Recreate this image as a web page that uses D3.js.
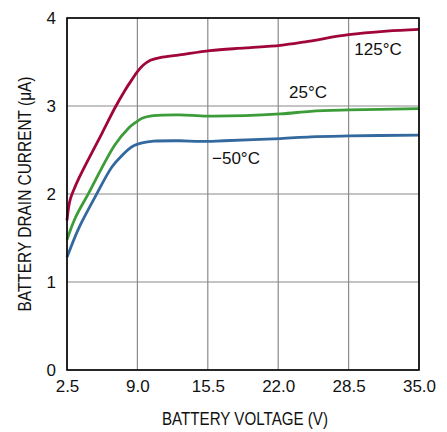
<!DOCTYPE html>
<html>
<head>
<meta charset="utf-8">
<script src="https://cdn.jsdelivr.net/npm/d3@7"></script>
<style>
  body { margin: 0; background: #fff; }
  text { font-family: "Liberation Sans Narrow", "Arial Narrow", "Liberation Sans", sans-serif; fill: #111; }
</style>
</head>
<body>
<div id="chart"></div>
<script>
// Battery voltage (V) vs battery drain current (uA)
const xTicks = [2.5, 9.0, 15.5, 22.0, 28.5, 35.0];
const yTicks = [0, 1, 2, 3, 4];

const v125 = [2.5, 2.65, 2.8, 3.1, 3.6, 4.5, 5.73, 6.93, 7.86, 8.5, 9.0, 9.5, 10.2, 11.1, 12.9, 15.7, 19.0, 22.2, 24.5, 28.5, 32.0, 35.0];
const i125 = [1.70, 1.85, 1.94, 2.04, 2.18, 2.40, 2.69, 2.98, 3.18, 3.30, 3.39, 3.46, 3.52, 3.55, 3.58, 3.63, 3.66, 3.69, 3.73, 3.81, 3.85, 3.87];

const v25 = [2.5, 3.27, 4.5, 5.73, 6.93, 8.2, 8.8, 9.43, 10.5, 12.9, 15.5, 22.2, 25.0, 28.5, 35.0];
const i25 = [1.48, 1.73, 2.01, 2.30, 2.56, 2.75, 2.81, 2.86, 2.89, 2.90, 2.885, 2.91, 2.94, 2.955, 2.97];

const vm50 = [2.5, 3.58, 5.11, 6.66, 7.6, 8.2, 8.7, 9.43, 10.5, 12.9, 14.8, 17.0, 22.2, 25.0, 28.5, 35.0];
const im50 = [1.28, 1.61, 1.97, 2.31, 2.44, 2.51, 2.55, 2.58, 2.60, 2.605, 2.597, 2.605, 2.63, 2.65, 2.66, 2.67];

const seriesNames = ["125°C", "25°C", "\u221250°C"];

const width = 447, height = 432;
const margin = { left: 67, right: 28, top: 18, bottom: 62 };

const svg = d3.select("#chart")
    .append("svg")
    .attr("width", width)
    .attr("height", height);

const x = d3.scaleLinear().domain([2.5, 35]).range([margin.left, width - margin.right]);
const y = d3.scaleLinear().domain([0, 4]).range([height - margin.bottom, margin.top]);

// grid
svg.append("g")
    .selectAll("line")
    .data(xTicks)
    .join("line")
    .attr("x1", d => x(d)).attr("x2", d => x(d))
    .attr("y1", y(0)).attr("y2", y(4))
    .style("stroke", "#8a8a8a").style("stroke-width", 1.2);

svg.append("g")
    .selectAll("line")
    .data(yTicks)
    .join("line")
    .attr("x1", x(2.5)).attr("x2", x(35))
    .attr("y1", d => y(d)).attr("y2", d => y(d))
    .style("stroke", "#8a8a8a").style("stroke-width", 1.2);

// axes (labels only)
const xAxis = svg.append("g")
    .attr("transform", `translate(0,${y(0)})`)
    .call(d3.axisBottom(x).tickValues(xTicks).tickFormat(d3.format(".1f")).tickSize(0).tickPadding(10));
xAxis.select(".domain").remove();
xAxis.selectAll("text").style("font-size", "17px");

const yAxis = svg.append("g")
    .attr("transform", `translate(${x(2.5)},0)`)
    .call(d3.axisLeft(y).tickValues(yTicks).tickFormat(d3.format("d")).tickSize(0).tickPadding(11));
yAxis.select(".domain").remove();
yAxis.selectAll("text").style("font-size", "17px");

// curves
const lineFunction = d3.line()
    .x(d => x(d.v))
    .y(d => y(d.i))
    .curve(d3.curveCatmullRom.alpha(0.5));

const curves = [
    { v: v125, i: i125, color: "#a0063c" },
    { v: v25, i: i25, color: "#3c9c38" },
    { v: vm50, i: im50, color: "#33699f" }
];

curves.forEach(c => {
    svg.append("path")
        .datum(c.v.map((v, k) => ({ v: v, i: c.i[k] })))
        .attr("d", lineFunction)
        .style("fill", "none")
        .style("stroke", c.color)
        .style("stroke-width", 2.8);
});

// frame
svg.append("rect")
    .attr("x", x(2.5)).attr("y", y(4))
    .attr("width", x(35) - x(2.5)).attr("height", y(0) - y(4))
    .style("fill", "none").style("stroke", "#000").style("stroke-width", 1.6);

// series labels
const labelPos = [[378, 3.58], [308, 3.09], [236, 2.34]];
seriesNames.forEach((name, k) => {
    svg.append("text")
        .attr("x", labelPos[k][0])
        .attr("y", y(labelPos[k][1]))
        .attr("text-anchor", "middle")
        .style("font-size", "17px")
        .text(name);
});

// axis titles
svg.append("text")
    .attr("x", (x(2.5) + x(35)) / 2 + 2)
    .attr("y", 425)
    .attr("text-anchor", "middle")
    .attr("textLength", 166)
    .attr("lengthAdjust", "spacingAndGlyphs")
    .style("font-size", "18px")
    .text("BATTERY VOLTAGE (V)");

svg.append("text")
    .attr("transform", `translate(31,${(y(0) + y(4)) / 2}) rotate(-90)`)
    .attr("text-anchor", "middle")
    .attr("textLength", 235)
    .attr("lengthAdjust", "spacingAndGlyphs")
    .style("font-size", "18px")
    .text("BATTERY DRAIN CURRENT (\u03bcA)");
</script>
</body>
</html>
